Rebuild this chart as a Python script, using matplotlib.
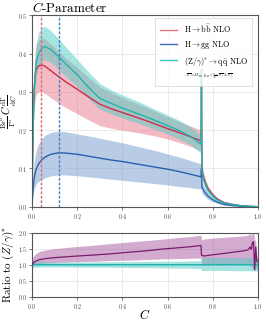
import matplotlib
matplotlib.use("Agg")
import matplotlib.pyplot as plt
from matplotlib.lines import Line2D

# ---------------- data ----------------
C_main = [0.000, 0.003, 0.006, 0.010, 0.015, 0.020, 0.030, 0.040, 0.050, 0.060,
          0.080, 0.100, 0.120, 0.150, 0.200, 0.250, 0.300, 0.350, 0.400, 0.450,
          0.500, 0.550, 0.600, 0.650, 0.700, 0.748, 0.750, 0.752, 0.760, 0.770,
          0.780, 0.800, 0.820, 0.850, 0.880, 0.920, 0.960, 1.000]

z_mid = [0.000, 0.120, 0.220, 0.300, 0.350, 0.380, 0.400, 0.410, 0.417, 0.418,
         0.412, 0.402, 0.391, 0.373, 0.345, 0.312, 0.283, 0.270, 0.258, 0.247,
         0.236, 0.224, 0.212, 0.199, 0.184, 0.163, 0.360, 0.090, 0.070, 0.054,
         0.042, 0.028, 0.018, 0.010, 0.006, 0.003, 0.001, 0.000]
z_hi = [0.000, 0.140, 0.250, 0.340, 0.400, 0.430, 0.455, 0.465, 0.470, 0.470,
        0.462, 0.450, 0.437, 0.417, 0.385, 0.352, 0.322, 0.305, 0.292, 0.280,
        0.267, 0.253, 0.240, 0.226, 0.210, 0.186, 0.375, 0.105, 0.082, 0.064,
        0.050, 0.034, 0.022, 0.012, 0.0075, 0.004, 0.0013, 0.000]
z_lo = [0.000, 0.105, 0.195, 0.268, 0.315, 0.345, 0.365, 0.375, 0.382, 0.384,
        0.378, 0.369, 0.358, 0.341, 0.314, 0.282, 0.255, 0.243, 0.232, 0.222,
        0.212, 0.201, 0.190, 0.177, 0.162, 0.140, 0.300, 0.072, 0.056, 0.043,
        0.034, 0.022, 0.014, 0.008, 0.0048, 0.0024, 0.0008, 0.000]

bb_mid = [0.000, 0.140, 0.250, 0.310, 0.345, 0.360, 0.368, 0.370, 0.369, 0.366,
          0.357, 0.348, 0.339, 0.326, 0.307, 0.287, 0.268, 0.256, 0.246, 0.236,
          0.226, 0.215, 0.204, 0.194, 0.183, 0.172, 0.330, 0.095, 0.075, 0.058,
          0.046, 0.031, 0.020, 0.011, 0.007, 0.003, 0.0012, 0.000]
bb_hi = [0.000, 0.165, 0.295, 0.365, 0.408, 0.425, 0.435, 0.440, 0.440, 0.437,
         0.427, 0.416, 0.404, 0.388, 0.364, 0.338, 0.313, 0.298, 0.285, 0.273,
         0.261, 0.248, 0.235, 0.223, 0.211, 0.200, 0.350, 0.112, 0.088, 0.068,
         0.054, 0.036, 0.024, 0.013, 0.0083, 0.0036, 0.0014, 0.000]
bb_lo = [0.000, 0.115, 0.205, 0.255, 0.283, 0.295, 0.300, 0.300, 0.298, 0.295,
         0.286, 0.278, 0.270, 0.259, 0.243, 0.227, 0.212, 0.205, 0.200, 0.195,
         0.190, 0.184, 0.177, 0.168, 0.158, 0.145, 0.300, 0.080, 0.063, 0.049,
         0.039, 0.026, 0.017, 0.0093, 0.0059, 0.0025, 0.001, 0.000]

gg_mid = [0.000, 0.030, 0.055, 0.075, 0.090, 0.100, 0.112, 0.120, 0.126, 0.130,
          0.136, 0.139, 0.141, 0.140, 0.137, 0.132, 0.127, 0.122, 0.118, 0.113,
          0.108, 0.103, 0.098, 0.092, 0.085, 0.078, 0.100, 0.050, 0.042, 0.034,
          0.027, 0.018, 0.012, 0.006, 0.0035, 0.0015, 0.0005, 0.000]
gg_hi = [0.000, 0.050, 0.090, 0.115, 0.135, 0.150, 0.165, 0.175, 0.182, 0.187,
         0.193, 0.196, 0.197, 0.196, 0.190, 0.185, 0.179, 0.173, 0.167, 0.160,
         0.153, 0.146, 0.138, 0.130, 0.121, 0.112, 0.130, 0.065, 0.055, 0.044,
         0.035, 0.023, 0.016, 0.008, 0.0045, 0.002, 0.0007, 0.000]
gg_lo = [0.000, 0.018, 0.033, 0.045, 0.053, 0.060, 0.066, 0.070, 0.073, 0.076,
         0.080, 0.082, 0.083, 0.083, 0.081, 0.078, 0.075, 0.072, 0.069, 0.066,
         0.063, 0.060, 0.057, 0.053, 0.050, 0.046, 0.070, 0.035, 0.030, 0.024,
         0.019, 0.013, 0.0085, 0.0042, 0.0025, 0.001, 0.0003, 0.000]

C_ratio = [0.000, 0.002, 0.010, 0.020, 0.035, 0.060, 0.100, 0.140, 0.200, 0.290,
           0.350, 0.430, 0.500, 0.580, 0.650, 0.700, 0.748, 0.750, 0.760, 0.800,
           0.860, 0.900, 0.935, 0.955, 0.965, 0.970, 0.975, 0.980, 0.985, 0.990,
           0.995, 1.000]
r_mid = [2.00, 1.00, 1.08, 1.12, 1.16, 1.19, 1.22, 1.24, 1.27, 1.31,
         1.34, 1.39, 1.43, 1.49, 1.53, 1.56, 1.60, 1.30, 1.27, 1.31,
         1.36, 1.40, 1.43, 1.46, 1.55, 1.48, 1.68, 1.72, 0.85, 1.55,
         1.10, 1.10]
r_hi = [2.00, 1.20, 1.30, 1.36, 1.42, 1.46, 1.50, 1.53, 1.57, 1.62,
        1.66, 1.71, 1.75, 1.80, 1.85, 1.88, 1.92, 1.78, 1.80, 1.83,
        1.86, 1.88, 1.90, 1.92, 1.98, 1.90, 2.05, 2.05, 1.80, 1.70,
        1.20, 1.20]
r_lo = [1.00, 0.98, 1.00, 1.02, 1.04, 1.05, 1.07, 1.08, 1.09, 1.11,
        1.13, 1.14, 1.16, 1.18, 1.19, 1.20, 1.21, 1.00, 0.98, 1.00,
        1.00, 1.00, 1.00, 1.00, 0.97, 0.95, 0.88, 0.85, 0.80, 0.90,
        0.90, 0.90]
zr_mid = [0.00, 1.00, 1.00, 1.00, 1.00, 1.00, 1.00, 1.00, 1.00, 1.00,
          1.00, 1.00, 1.00, 1.00, 1.00, 1.00, 1.00, 1.00, 1.00, 1.00,
          1.00, 1.00, 1.00, 1.00, 1.00, 1.00, 1.00, 1.00, 1.00, 1.00,
          1.00, 1.00]
zr_hi = [1.00, 1.12, 1.10, 1.09, 1.09, 1.08, 1.08, 1.08, 1.08, 1.09,
         1.09, 1.10, 1.10, 1.11, 1.11, 1.12, 1.12, 1.22, 1.22, 1.22,
         1.22, 1.22, 1.22, 1.22, 1.22, 1.22, 1.22, 1.22, 1.22, 1.22,
         1.22, 1.22]
zr_lo = [1.00, 0.90, 0.92, 0.92, 0.93, 0.93, 0.93, 0.93, 0.92, 0.92,
         0.92, 0.91, 0.91, 0.90, 0.89, 0.89, 0.88, 0.82, 0.82, 0.82,
         0.82, 0.81, 0.81, 0.81, 0.81, 0.81, 0.81, 0.81, 0.80, 0.80,
         0.80, 0.80]

peak_bb = 0.04
peak_gg = 0.12

labels = [r"$\mathrm{H}\rightarrow\mathrm{b}\bar{\mathrm{b}}$ NLO",
          r"$\mathrm{H}\rightarrow\mathrm{gg}$ NLO",
          r"$(\mathrm{Z}/\gamma)^{*}\rightarrow\mathrm{q}\bar{\mathrm{q}}$ NLO"]
note = r"$\sqrt{s}=M_{\mathrm{H}},\ \mu_R\in[\frac{1}{2}\sqrt{s},2\sqrt{s}]$"

# ---------------- style ----------------
plt.rcParams['font.family'] = 'serif'
plt.rcParams['font.serif'] = ['cmr10', 'DejaVu Serif']
plt.rcParams['mathtext.fontset'] = 'cm'
plt.rcParams['axes.formatter.use_mathtext'] = True
plt.rcParams['axes.unicode_minus'] = False

RED = '#d02c48'
RED_B = '#e8798a'
BLUE = '#2b5fae'
BLUE_B = '#7fa2d3'
TEAL = '#22b3ad'
TEAL_B = '#4fcbc5'
PURP = '#7a1a6c'
PURP_B = '#a859a0'
SPINE = '#555555'
GRID = '#e6e6e6'

fig = plt.figure(figsize=(2.66, 3.22), dpi=100)
ax = fig.add_axes([0.120, 0.358, 0.850, 0.5945])
axr = fig.add_axes([0.120, 0.0786, 0.850, 0.1988])

for a in (ax, axr):
    a.grid(True, color=GRID, lw=0.6)
    a.set_axisbelow(True)
    for s in a.spines.values():
        s.set_color(SPINE)
        s.set_linewidth(0.8)
    a.tick_params(labelsize=4.3, length=2, width=0.5, colors='#444444', pad=1.5)
    a.set_xlim(0, 1)

# main panel
ax.fill_between(C_main, bb_lo, bb_hi, color=RED_B, alpha=0.5, lw=0)
ax.fill_between(C_main, gg_lo, gg_hi, color=BLUE_B, alpha=0.55, lw=0)
ax.fill_between(C_main, z_lo, z_hi, color=TEAL_B, alpha=0.5, lw=0)
ax.plot(C_main, bb_mid, color=RED, lw=1.0)
ax.plot(C_main, gg_mid, color=BLUE, lw=1.0)
ax.plot(C_main, z_mid, color=TEAL, lw=1.0)
ax.axvline(peak_bb, color='#e0687a', ls=(0, (2, 1.2)), lw=1.0)
ax.axvline(peak_gg, color='#4a7cc2', ls=(0, (2, 1.2)), lw=1.0)
ax.set_ylim(0, 0.5)
ax.set_yticks([0.0, 0.1, 0.2, 0.3, 0.4, 0.5])
ax.set_xticks([0.0, 0.2, 0.4, 0.6, 0.8, 1.0])
ax.set_ylabel(r"$\frac{\mathrm{Br}^n}{\Gamma^n}\,C\,\frac{\mathrm{d}\Gamma}{\mathrm{d}C}$",
              fontsize=7.5, labelpad=0)
ax.yaxis.set_label_coords(-0.058, 0.5)
ax.set_title(r"$C$-Parameter", loc='left', fontsize=9.5, pad=2)

handles = [Line2D([], [], color='#e07585', lw=1.0),
           Line2D([], [], color='#3a6db8', lw=1.0),
           Line2D([], [], color='#3cc6bf', lw=1.0),
           Line2D([], [], color='none', lw=0)]
leg = ax.legend(handles, labels + [note], loc='upper right',
                bbox_to_anchor=(0.975, 0.985), borderaxespad=0, fontsize=5.8,
                frameon=True, fancybox=False, edgecolor='#cccccc',
                handlelength=2.2, handletextpad=0.8, labelspacing=0.5,
                borderpad=0.55)
leg.get_frame().set_linewidth(0.5)
leg.get_texts()[3].set_fontsize(3.0)

# ratio panel
axr.fill_between(C_ratio, r_lo, r_hi, color=PURP_B, alpha=0.5, lw=0)
axr.fill_between(C_ratio, zr_lo, zr_hi, color=TEAL_B, alpha=0.5, lw=0)
axr.plot(C_ratio, zr_mid, color=TEAL, lw=1.0)
axr.plot(C_ratio, r_mid, color=PURP, lw=0.9)
axr.set_ylim(0, 2.0)
axr.set_yticks([0.0, 0.5, 1.0, 1.5, 2.0])
axr.set_xticks([0.0, 0.2, 0.4, 0.6, 0.8, 1.0])
axr.set_ylabel(r"Ratio to $(Z/\gamma)^{*}$", fontsize=8, labelpad=1)
axr.set_xlabel(r"$C$", fontsize=9, labelpad=-1.5)

fig.savefig('out.png', dpi=100)
